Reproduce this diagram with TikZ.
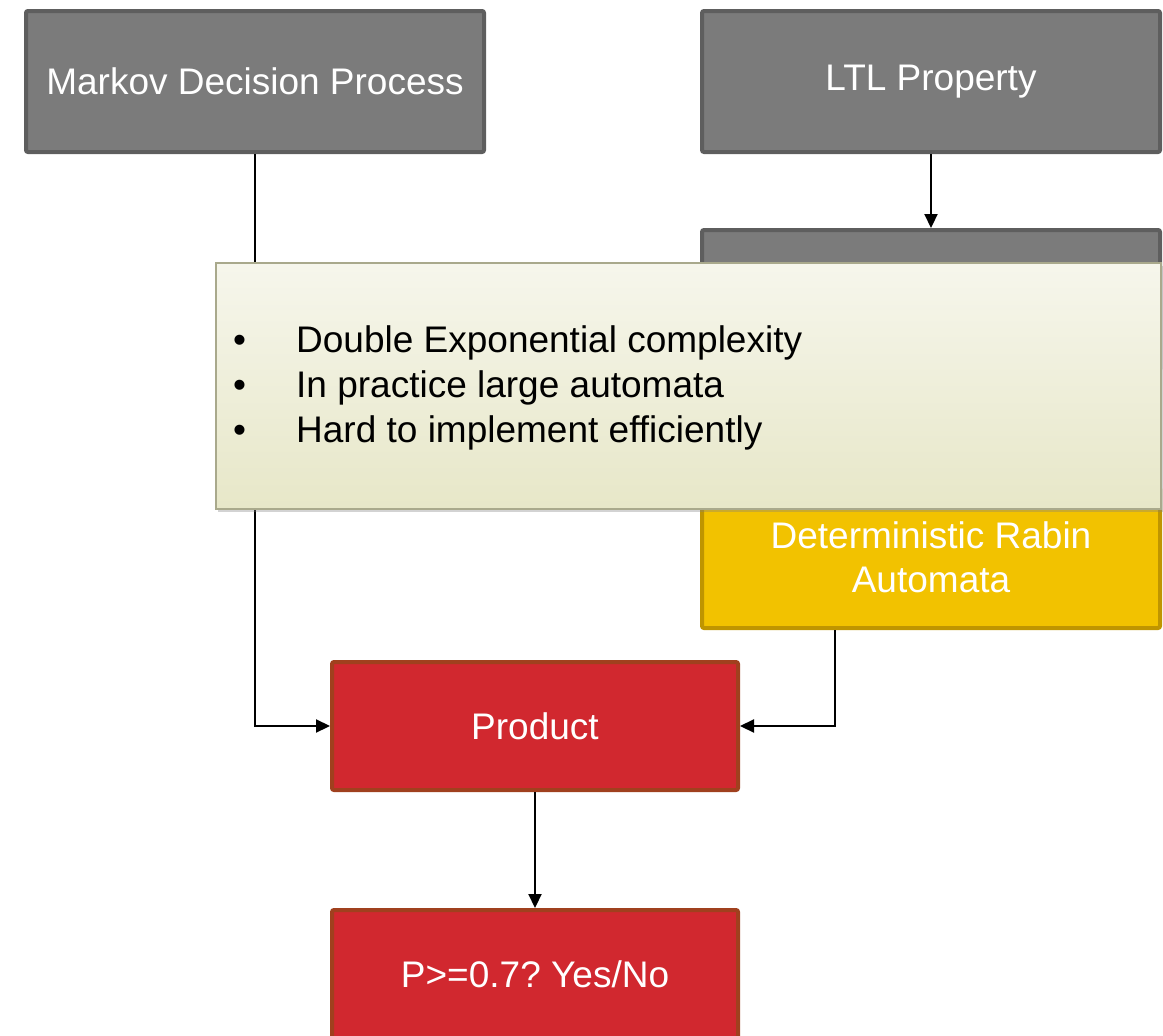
\documentclass[tikz,border=0pt]{standalone}
\usepackage{fontspec}
\setmainfont{Liberation Sans}
\usetikzlibrary{arrows.meta,shadows}
\definecolor{greyfill}{HTML}{7B7B7B}
\definecolor{greyline}{HTML}{5E5E5E}
\definecolor{yelfill}{HTML}{F2C200}
\definecolor{yelline}{HTML}{BF9500}
\definecolor{redfill}{HTML}{D1282F}
\definecolor{redline}{HTML}{A0401E}
\definecolor{calltop}{HTML}{F6F6EC}
\definecolor{callbot}{HTML}{E7E7C8}
\definecolor{callline}{HTML}{A9A98C}
\frenchspacing
\begin{document}
\begin{tikzpicture}[x=1pt,y=-1pt,
  box/.style={rectangle, draw, line width=4pt, rounded corners=2pt, text=white,
    font=\fontsize{37}{44}\selectfont, align=center, inner sep=0pt},
  greybox/.style={box, fill=greyfill, draw=greyline, minimum width=458pt, minimum height=141pt},
  yelbox/.style={box, fill=yelfill, draw=yelline, minimum width=458pt, minimum height=141pt},
  redbox/.style={box, fill=redfill, draw=redline, minimum width=406pt, minimum height=128pt},
  conn/.style={line width=2.2pt, -{Triangle[length=14pt,width=13pt]}},
  callout/.style={rectangle, draw=callline, line width=2pt, top color=calltop, bottom color=callbot,
    minimum width=945pt, minimum height=246pt, inner sep=0pt,
    drop shadow={shadow xshift=2pt, shadow yshift=-3pt, opacity=0.35}},
  notetext/.style={font=\fontsize{37}{45}\selectfont, align=left, inner sep=0pt, text=black}]
\useasboundingbox (0,0) rectangle (1163,1036);
\clip (0,0) rectangle (1163,1036);

\node[greybox] (mdp) at (255,81.5) {\raisebox{-2pt}{Markov Decision Process}};
\node[greybox] (ltl) at (931,81.5) {\raisebox{-2pt}{LTL Property}};
\node[greybox] (ltlb) at (931,300.5) {};
\node[yelbox] (dra) at (931,557.5) {Deterministic Rabin\\Automata};
\node[redbox] (prod) at (535,726) {Product};
\node[redbox] (res) at (535,974) {P>=0.7? Yes/No};

\coordinate (draout) at ([xshift=-96pt]dra.south);
\draw[conn] (mdp.south) |- (prod.west);
\draw[conn] (ltl.south) -- (ltlb.north);
\draw[conn] (draout) |- (prod.east);
\draw[conn] (prod.south) -- (res.north);

\node[callout] (note) at (688.5,386) {};
\node[notetext, anchor=west] (notetxt) at (233,388)
  {\makebox[63pt][l]{•}Double Exponential complexity\\
   \makebox[63pt][l]{•}In practice large automata\\
   \makebox[63pt][l]{•}Hard to implement efficiently};
\end{tikzpicture}
\end{document}
